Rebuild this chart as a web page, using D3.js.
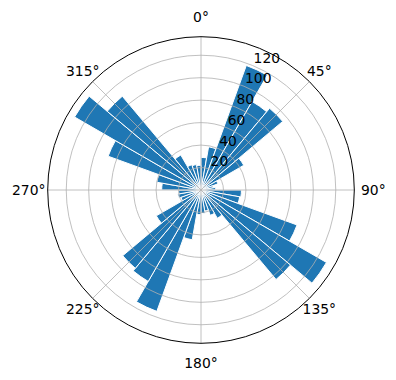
<!DOCTYPE html>
<html>
<head>
<meta charset="utf-8">
<script src="https://cdn.jsdelivr.net/npm/d3@7"></script>
<style>
  body { margin: 0; background: #fff; }
  text { font-family: "DejaVu Sans", sans-serif; font-size: 13.9px; fill: #000; }
</style>
</head>
<body>
<div id="chart"></div>
<script>
// Sizes
const width = 396;
const height = 380;
const cx = 201;
const cy = 190;
const R = 153.3;

// Data: 36 direction bins of 10 degrees each (start angle of bin)
const binStart = d3.range(0, 360, 10);
const binWidth = 10;
const counts = [
  29, 39, 118, 91, 95, 44, 16, 11, 13,
  36, 35, 91, 129, 104, 29, 24, 19, 21,
  22, 45, 115, 94, 91, 46, 19, 21, 20,
  35, 40, 88, 130, 109, 36, 24, 23, 22
];

// Tick labels
const rTicks = [20, 40, 60, 80, 100, 120];
const thetaTicks = [0, 45, 90, 135, 180, 225, 270, 315];
const rLabelAngle = 22.5;

const svg = d3.select("#chart")
  .append("svg")
  .attr("width", width)
  .attr("height", height);

const g = svg.append("g")
  .attr("transform", `translate(${cx},${cy})`);

// Scales (0 deg at top, clockwise, same as d3.arc)
const rmax = d3.max(counts) * 1.05;
const r = d3.scaleLinear().domain([0, rmax]).range([0, R]);
const theta = d3.scaleLinear().domain([0, 360]).range([0, 2 * Math.PI]);

// Bars
const arc = d3.arc()
  .innerRadius(0)
  .outerRadius(d => r(d.v))
  .startAngle(d => theta(d.a))
  .endAngle(d => theta(d.a + binWidth));

g.selectAll(".bar")
  .data(binStart.map((a, i) => ({a: a, v: counts[i]})))
  .enter()
  .append("path")
  .attr("class", "bar")
  .attr("d", arc)
  .attr("fill", "#1f77b4")
  .attr("stroke", "#fff")
  .attr("stroke-width", 1);

// Grid circles
g.selectAll(".rgrid")
  .data(rTicks)
  .enter()
  .append("circle")
  .attr("r", d => r(d))
  .attr("fill", "none")
  .attr("stroke", "#b0b0b0")
  .attr("stroke-width", 0.8);

// Spokes
g.selectAll(".tgrid")
  .data(thetaTicks)
  .enter()
  .append("line")
  .attr("x1", 0).attr("y1", 0)
  .attr("x2", d => R * Math.sin(theta(d)))
  .attr("y2", d => -R * Math.cos(theta(d)))
  .attr("stroke", "#b0b0b0")
  .attr("stroke-width", 0.8);

// Outer frame
g.append("circle")
  .attr("r", R)
  .attr("fill", "none")
  .attr("stroke", "#000")
  .attr("stroke-width", 1);

// Radial tick labels
const ra = theta(rLabelAngle);
g.selectAll(".rlabel")
  .data(rTicks)
  .enter()
  .append("text")
  .attr("x", d => r(d) * Math.sin(ra) + 1)
  .attr("y", d => -r(d) * Math.cos(ra) - 3)
  .attr("text-anchor", "start")
  .text(d => d);

// Angle labels
g.selectAll(".tlabel")
  .data(thetaTicks)
  .enter()
  .append("text")
  .attr("x", d => (R + 19 - 5 * Math.abs(Math.sin(2 * theta(d)))) * Math.sin(theta(d)))
  .attr("y", d => -(R + 20 - 5 * Math.abs(Math.sin(2 * theta(d)))) * Math.cos(theta(d)))
  .attr("text-anchor", "middle")
  .attr("dominant-baseline", "central")
  .text(d => d + "°");
</script>
</body>
</html>
